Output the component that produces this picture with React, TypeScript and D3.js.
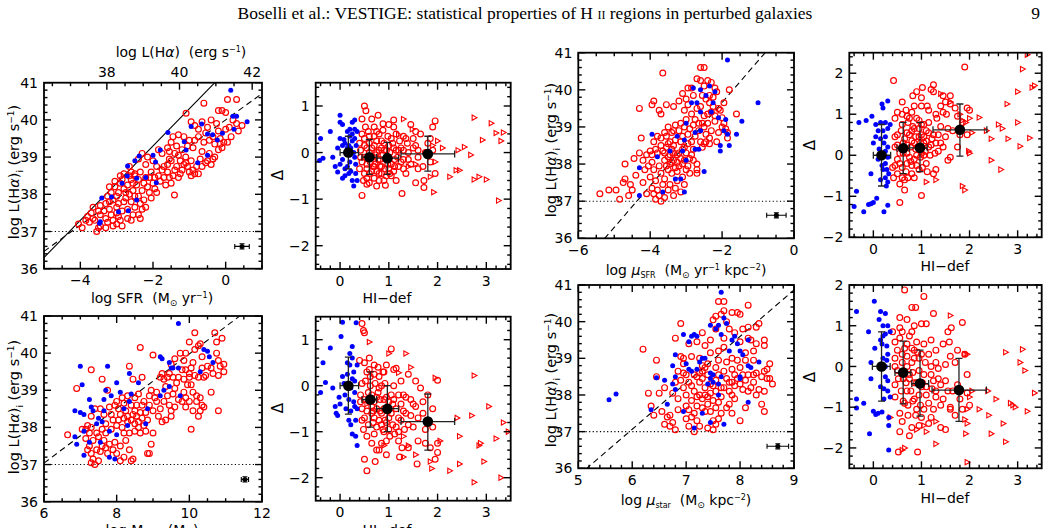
// ─ Imports ──────────────────────────────────────────────────────────────────────────────────────
import * as d3 from 'd3';
import { ReactElement, ReactNode } from 'react';

// ─ Types ────────────────────────────────────────────────────────────────────────────────────────
type Pt = [number, number];

interface MeanBin { x: number; y: number; xLo: number; xHi: number; yLo: number; yHi: number; }
interface Box { left: number; right: number; top: number; bottom: number; }
interface AxisDef { domain: [number, number]; major: number; minor: number; }
interface RefLine { slope: number; intercept: number; }
interface ErrSym { x: number; y: number; dx: number; dy: number; }

// ─ Data: log L(Hα)_i vs log SFR ──────────────────────────────────────────────────────────────────
const sfrBlue: Pt[] = [
  [0.14, 40.8], [0.59, 39.95], [0.23, 39.75], [0.2, 40.1], [0.3, 40.1], [-0.66, 39.89], [-0.5, 39.62],
  [-0.36, 39.6], [-0.09, 39.64], [-0.23, 39.46], [-1.59, 39.66], [-0.95, 39.82], [-1.14, 39.41],
  [-1.09, 39.19], [-1.8, 39.19], [-2.0, 39.05], [-1.93, 38.87], [-0.77, 38.85], [-0.5, 39.05],
  [-2.38, 39.03], [-2.7, 38.76], [-2.71, 38.49], [-2.45, 38.43], [-1.91, 38.31], [-3.14, 37.93],
  [-3.41, 37.9], [-2.45, 37.85], [-2.68, 37.56], [-2.95, 37.53], [-3.45, 37.26], [-3.47, 37.22],
  [-2.2, 38.45], [-2.85, 38.3], [-2.5, 38.9],
];
const sfrRed: Pt[] = [
  [-0.6, 40.45], [0.05, 40.55], [0.3, 40.55], [-0.2, 40.25], [-0.1, 40.25], [0.0, 40.2], [0.2, 40.0],
  [0.3, 39.9], [0.45, 39.85], [0.35, 39.7], [-0.95, 39.95], [-1.09, 40.18], [-0.85, 39.85],
  [-0.75, 39.75], [-0.5, 39.8], [-0.55, 39.65], [-0.35, 39.55], [-0.15, 39.5], [-0.05, 39.4],
  [-0.15, 39.35], [-0.3, 39.35], [-0.6, 39.4], [-0.85, 39.45], [-0.9, 39.25], [-1.05, 39.3],
  [-1.15, 39.55], [-1.3, 39.6], [-1.45, 39.55], [-1.5, 39.4], [-1.35, 39.3], [-1.6, 39.25],
  [-1.75, 39.1], [-1.85, 39.2], [-1.55, 39.15], [-1.3, 39.05], [-1.1, 39.0], [-0.95, 38.9],
  [-0.7, 38.95], [-0.55, 38.85], [-0.35, 38.95], [-0.45, 39.1], [-0.65, 39.15], [-0.8, 38.75],
  [-1.0, 38.6], [-0.95, 38.5], [-0.85, 38.55], [-1.2, 38.65], [-1.35, 38.75], [-1.5, 38.9],
  [-1.6, 38.8], [-1.75, 38.65], [-1.9, 38.75], [-2.0, 38.9], [-2.15, 39.0], [-2.3, 39.1],
  [-2.4, 38.95], [-2.2, 38.8], [-2.05, 38.6], [-1.85, 38.5], [-1.6, 38.6], [-1.45, 38.5],
  [-1.3, 38.45], [-1.5, 38.3], [-1.65, 38.25], [-1.41, 37.98], [-2.2, 38.45], [-2.35, 38.6],
  [-2.5, 38.55], [-2.6, 38.4], [-2.45, 38.25], [-2.3, 38.1], [-2.15, 38.2], [-2.0, 38.3],
  [-1.9, 38.05], [-2.05, 37.9], [-2.25, 37.85], [-2.4, 37.95], [-2.55, 38.1], [-2.7, 38.25],
  [-2.85, 38.4], [-2.8, 38.15], [-2.95, 38.05], [-3.05, 38.2], [-3.15, 38.05], [-3.1, 37.85],
  [-2.95, 37.75], [-2.75, 37.9], [-2.6, 37.8], [-2.5, 37.65], [-2.7, 37.6], [-2.85, 37.55],
  [-3.0, 37.5], [-3.2, 37.6], [-3.35, 37.55], [-3.45, 37.45], [-3.3, 37.35], [-3.1, 37.3],
  [-2.9, 37.3], [-2.7, 37.35], [-2.55, 37.45], [-3.6, 37.3], [-3.5, 37.1], [-3.55, 37.0],
  [-3.3, 37.1], [-3.1, 37.15], [-3.85, 37.3], [-4.05, 37.2], [-3.95, 37.1], [-3.7, 37.5],
  [-3.65, 37.65], [-3.2, 37.8], [-3.0, 37.95], [-2.8, 38.55], [-2.6, 38.6], [-2.65, 38.75],
  [-0.75, 38.55], [-0.5, 38.9], [-1.1, 38.85], [-1.25, 38.9], [-0.3, 39.0], [0.1, 39.8],
  [0.0, 39.75], [-0.2, 39.7], [-1.7, 38.75], [-2.5, 38.5], [-2.95, 37.4], [-3.25, 37.95],
  [-2.9, 38.3], [-2.75, 38.05], [-2.65, 38.0], [-2.5, 37.95], [-2.35, 37.75], [-2.2, 37.65],
  [-2.1, 38.05], [-1.95, 38.15], [-1.8, 38.35], [-1.7, 38.45], [-1.55, 38.45], [-1.4, 38.65],
  [-1.25, 38.55], [-1.15, 38.8], [-1.05, 38.75], [-0.9, 38.65], [-0.65, 38.75], [-0.4, 38.8],
  [-0.2, 39.2], [-0.1, 39.25], [0.05, 39.4], [0.15, 39.55], [-2.55, 38.3], [-2.4, 38.4],
  [-2.25, 38.3], [-2.1, 38.45], [-1.95, 38.45], [-2.65, 38.5], [-2.8, 37.8], [-3.0, 37.65],
  [-3.15, 37.45], [-3.3, 37.75], [-3.45, 37.7], [-3.5, 37.55], [-3.65, 37.35], [-3.75, 37.25],
  [-3.45, 37.15], [-3.25, 37.25], [-3.0, 37.2], [-2.85, 37.15], [-2.6, 37.3], [-2.4, 37.45],
  [-2.3, 37.6], [-3.05, 38.35], [-2.9, 38.5], [-3.2, 38.2], [-1.55, 38.95], [-1.4, 39.1],
  [-1.2, 39.2], [-1.0, 39.45], [-0.75, 39.55], [-0.45, 39.45], [-0.65, 39.95], [-0.4, 40.0],
  [-0.25, 39.9], [-2.35, 37.35], [-3.8, 37.4],
];

// ─ Data: Δ vs HI-def (SFR relation) ──────────────────────────────────────────────────────────────
const dSfrBlue: Pt[] = [
  [-0.4, 0.3], [-0.42, -0.17], [-0.35, -0.12], [-0.2, 0.45], [-0.15, -0.1], [-0.1, -0.3], [-0.05, -0.42],
  [0.0, 0.65], [0.0, 0.8], [0.05, 0.6], [0.0, 0.3], [0.05, 0.15], [0.08, 0.28], [0.05, -0.15],
  [0.0, -0.25], [0.05, -0.55], [0.1, -0.35], [0.1, 0.2], [0.15, 0.45], [0.15, 0.1], [0.15, -0.3],
  [0.18, -0.45], [0.2, 0.5], [0.2, 0.35], [0.22, 0.1], [0.2, -0.05], [0.2, -0.2], [0.22, -0.4],
  [0.25, -0.6], [0.28, -0.72], [0.25, 0.65], [0.25, 0.25], [0.28, 0.0], [0.3, 0.5], [0.3, 0.7],
  [0.32, -0.25], [0.35, -0.6], [0.32, -0.45], [0.3, 0.3], [0.35, 0.45], [-0.05, 0.1], [0.12, 0.0],
  [0.3, -0.1], [0.25, 0.4], [0.18, 0.15], [0.33, 0.15], [0.1, -0.5],
];
const dSfrRed: Pt[] = [
  [0.5, 1.0], [0.53, 0.9], [0.45, -0.92], [0.5, 0.3], [0.55, 0.1], [0.5, -0.1], [0.55, -0.25],
  [0.5, -0.45], [0.55, -0.55], [0.55, -0.68], [0.45, 0.72], [0.45, 0.4], [0.4, 0.2], [0.42, -0.1],
  [0.4, -0.35], [0.6, 0.2], [0.65, 0.72], [0.6, 0.35], [0.65, -0.1], [0.65, -0.4], [0.7, -0.55],
  [0.7, 0.15], [0.75, 0.0], [0.72, -0.25], [0.75, -0.72], [0.78, 0.8], [0.8, 0.4], [0.8, -0.45],
  [0.82, -0.15], [0.85, 0.25], [0.85, -0.3], [0.88, 0.48], [0.9, 0.05], [0.9, -0.6], [0.93, -0.7],
  [0.95, -0.15], [0.98, 0.35], [1.0, 0.6], [1.0, -0.35], [1.02, 0.0], [1.05, -0.5], [1.08, 0.2],
  [1.1, 0.55], [1.1, 0.7], [1.12, -0.15], [1.15, 0.4], [1.15, -0.6], [1.2, -0.3], [1.22, 0.25],
  [1.25, 0.1], [1.27, -0.88], [1.3, -0.15], [1.3, 0.35], [1.35, -0.45], [1.38, 0.2], [1.4, 0.0],
  [1.45, 0.6], [1.45, -0.25], [1.5, 0.3], [1.55, -0.65], [1.55, 0.15], [1.6, -0.1], [1.65, 0.4],
  [1.7, -0.3], [1.72, -0.6], [1.72, -0.75], [1.75, 0.0], [1.8, 0.2], [1.85, -0.2], [1.9, 0.55],
  [1.95, 0.68], [1.95, -0.45], [1.9, 0.05], [1.85, 0.3], [1.0, -0.1], [1.2, 0.05], [0.6, 0.0],
  [0.7, -0.3], [1.6, 0.05], [1.25, -0.2], [1.1, -0.4],
  [0.45, -0.2], [0.5, 0.15], [0.55, -0.35], [0.6, -0.45], [0.62, -0.2], [0.65, 0.1], [0.68, -0.3],
  [0.7, 0.35], [0.72, -0.05], [0.75, 0.25], [0.75, -0.4], [0.78, -0.15], [0.8, 0.05], [0.82, -0.3],
  [0.85, 0.1], [0.85, -0.45], [0.88, -0.05], [0.9, 0.2], [0.92, -0.35], [0.95, 0.05], [0.95, -0.5],
  [0.98, -0.25], [1.0, 0.15], [1.02, -0.45], [1.05, 0.3], [1.05, -0.25], [1.1, 0.1], [1.12, -0.3],
  [1.15, 0.05], [1.18, -0.1], [0.58, 0.45], [0.48, -0.6], [0.7, 0.55], [0.6, -0.65], [0.8, -0.6],
  [0.88, 0.62], [0.75, 0.45], [1.3, 0.05], [1.35, 0.3], [1.4, -0.15], [1.5, 0.1], [1.55, 0.45],
  [1.6, -0.35], [1.3, -0.35], [0.42, 0.05], [0.52, 0.55],
];
const dSfrTri: Pt[] = [
  [1.3, 0.72], [1.48, 0.5], [1.2, 0.38], [1.9, 0.15], [2.0, 0.25], [2.1, 0.1], [1.95, -0.2],
  [1.85, -0.52], [1.92, -0.85], [2.25, -0.52], [2.38, -0.38], [2.45, -0.38], [2.42, 0.05],
  [2.55, 0.12], [2.68, -0.05], [2.75, 0.75], [2.75, -0.58], [2.85, -0.52], [3.0, -0.58],
  [2.92, 0.27], [3.1, 0.63], [3.2, 0.42], [3.35, 0.43], [3.3, 0.25], [3.25, -1.03], [1.55, -0.25],
  [1.4, -0.3],
];
const dSfrMeans: MeanBin[] = [
  { x: 0.17, y: 0.0, xLo: 0.0, xHi: 0.38, yLo: -0.35, yHi: 0.35 },
  { x: 0.6, y: -0.1, xLo: 0.45, xHi: 0.75, yLo: -0.47, yHi: 0.28 },
  { x: 0.97, y: -0.12, xLo: 0.75, xHi: 1.2, yLo: -0.47, yHi: 0.22 },
  { x: 1.8, y: -0.03, xLo: 1.25, xHi: 2.35, yLo: -0.4, yHi: 0.35 },
];

// ─ Data: log L(Hα)_i vs log μSFR ─────────────────────────────────────────────────────────────────
const muSfrBlue: Pt[] = [
  [-1.85, 40.8], [-1.0, 39.65], [-1.45, 39.15], [-1.6, 38.8], [-1.8, 38.5], [-2.05, 38.5], [-2.05, 38.35],
  [-1.85, 38.8], [-1.95, 38.9], [-1.9, 39.2], [-2.1, 39.25], [-2.25, 39.65], [-2.3, 39.4],
  [-2.45, 39.85], [-2.7, 39.65], [-2.85, 39.65], [-2.8, 40.05], [-2.6, 40.0], [-2.35, 40.1],
  [-2.2, 39.95], [-2.6, 39.4], [-2.6, 38.9], [-2.75, 38.4], [-2.65, 38.4], [-3.05, 38.65],
  [-3.1, 38.35], [-3.0, 38.1], [-3.15, 37.6], [-3.05, 37.25], [-3.3, 37.6], [-3.0, 39.1],
  [-3.45, 38.35], [-3.8, 38.2], [-3.95, 38.8], [-4.3, 37.9], [-4.3, 37.15], [-3.65, 37.25],
  [-2.5, 37.8], [-3.25, 38.75], [-2.75, 38.85],
];
const muSfrRed: Pt[] = [
  [-5.4, 37.2], [-5.15, 37.3], [-4.95, 37.3], [-4.85, 37.05], [-4.75, 37.5], [-4.7, 37.6], [-4.55, 37.45],
  [-4.6, 37.15], [-4.5, 37.3], [-4.7, 38.0], [-4.4, 37.7], [-4.3, 38.3], [-4.25, 38.7], [-4.3, 39.5],
  [-4.45, 38.15], [-4.2, 38.1], [-4.1, 38.25], [-4.05, 37.95], [-3.95, 38.05], [-4.15, 37.85],
  [-4.0, 37.65], [-3.85, 37.55], [-3.95, 37.35], [-3.75, 37.15], [-3.85, 37.05], [-3.7, 37.0],
  [-3.6, 37.1], [-3.9, 37.2], [-4.1, 37.2], [-4.2, 37.5], [-3.95, 39.6], [-3.9, 39.7], [-3.75, 39.45],
  [-3.65, 40.45], [-3.7, 39.35], [-3.9, 38.6], [-3.8, 38.75], [-3.7, 38.7], [-3.85, 38.4],
  [-3.65, 38.35], [-3.55, 38.45], [-3.5, 38.2], [-3.45, 38.6], [-3.35, 38.5], [-3.6, 38.1],
  [-3.75, 37.95], [-3.5, 37.85], [-3.4, 37.75], [-3.3, 37.9], [-3.25, 38.05], [-3.6, 37.6],
  [-3.45, 37.45], [-3.3, 37.35], [-3.5, 37.3], [-3.15, 37.25], [-3.25, 37.55], [-3.1, 37.65],
  [-3.55, 39.6], [-3.35, 39.55], [-3.5, 39.0], [-3.4, 38.85], [-3.3, 39.05], [-3.2, 38.9],
  [-3.15, 38.6], [-3.1, 38.4], [-3.0, 38.3], [-3.05, 38.1], [-2.95, 37.95], [-2.9, 38.15],
  [-3.2, 38.3], [-3.1, 38.75], [-3.05, 39.0], [-2.95, 38.8], [-2.85, 38.6], [-2.8, 38.4],
  [-3.0, 39.2], [-3.2, 39.7], [-3.1, 39.9], [-3.0, 39.75], [-2.95, 40.05], [-2.8, 39.85],
  [-3.05, 39.45], [-2.85, 39.35], [-2.75, 39.2], [-2.7, 39.5], [-2.6, 40.6], [-2.5, 40.6],
  [-2.7, 40.3], [-2.85, 40.05], [-2.4, 40.25], [-2.3, 40.2], [-2.2, 40.05], [-2.15, 39.95],
  [-2.55, 39.85], [-2.45, 39.75], [-2.35, 39.65], [-2.6, 39.55], [-2.5, 39.3], [-2.4, 39.35],
  [-2.3, 39.4], [-2.55, 39.1], [-2.65, 38.9], [-2.45, 38.8], [-2.6, 38.6], [-2.55, 38.45],
  [-2.7, 38.0], [-2.7, 37.85], [-2.7, 37.75], [-2.8, 38.1], [-2.25, 39.55], [-2.2, 39.3],
  [-2.1, 39.5], [-2.0, 39.25], [-1.8, 40.0], [-1.95, 39.65], [-2.3, 38.9], [-2.15, 38.6],
  [-1.95, 39.1], [-1.9, 38.95], [-1.85, 38.85], [-1.85, 38.7], [-1.6, 39.35], [-2.35, 38.55],
  [-3.35, 38.3], [-3.55, 38.75], [-3.4, 38.05], [-3.2, 37.95],
  [-3.45, 38.25], [-3.35, 38.1], [-3.25, 38.25], [-3.15, 38.15], [-3.05, 38.45], [-2.95, 38.55],
  [-3.3, 38.65], [-3.4, 38.4], [-3.5, 38.55], [-3.6, 38.3], [-3.55, 37.95], [-3.45, 38.0],
  [-3.25, 37.8], [-3.1, 38.0], [-3.0, 37.85], [-2.9, 37.75], [-2.85, 38.25], [-2.75, 38.75],
  [-2.8, 39.05], [-2.9, 38.95], [-3.15, 39.1], [-3.35, 38.9], [-3.6, 38.85], [-3.7, 38.5],
  [-3.8, 38.3], [-3.95, 38.25], [-4.0, 38.35], [-3.9, 37.85], [-3.7, 37.75], [-3.65, 37.45],
  [-3.8, 37.3], [-2.65, 39.1], [-2.5, 39.0], [-2.4, 39.1], [-2.35, 39.85], [-2.5, 40.1],
  [-2.6, 40.25], [-2.25, 39.8], [-2.2, 39.15], [-2.05, 39.45], [-2.1, 38.85], [-2.35, 38.7],
  [-2.5, 38.55], [-2.45, 38.6], [-2.0, 39.0], [-3.05, 37.45], [-3.35, 37.15], [-2.95, 39.6],
];

// ─ Data: Δ vs HI-def (μSFR relation) ─────────────────────────────────────────────────────────────
const dMuSfrBlue: Pt[] = [
  [-0.35, -0.88], [-0.4, -1.25], [-0.3, 0.8], [-0.15, 0.85], [-0.2, -1.38], [-0.1, -1.2], [-0.05, -1.18],
  [0.0, -1.15], [-0.03, 0.95], [0.05, 0.75], [0.0, 0.3], [0.05, 0.45], [-0.05, -0.45], [0.07, -1.05],
  [0.1, -0.1], [0.12, 0.15], [0.15, 0.8], [0.15, 0.4], [0.15, -0.6], [0.18, 1.25], [0.2, 1.15],
  [0.2, 0.6], [0.2, -0.35], [0.22, -1.38], [0.22, 0.05], [0.25, 0.8], [0.25, 0.45], [0.25, -0.2],
  [0.25, -0.55], [0.27, -0.75], [0.3, 1.32], [0.3, 0.65], [0.3, 0.2], [0.3, -0.05], [0.32, -0.45],
  [0.3, -0.65], [0.35, 0.75], [0.3, -1.22], [0.18, -0.25], [0.1, 0.6], [0.25, 0.1], [0.28, -0.35],
  [0.22, 0.3],
];
const dMuSfrRed: Pt[] = [
  [0.42, 1.82], [0.45, 0.2], [0.4, -0.3], [0.42, -0.55], [0.45, 0.9], [0.5, 1.05], [0.5, 0.5],
  [0.5, -0.1], [0.55, -1.15], [0.55, -0.7], [0.6, 1.3], [0.6, 0.75], [0.62, 0.3], [0.6, -0.3],
  [0.65, -0.85], [0.68, 1.1], [0.7, 0.55], [0.7, 0.05], [0.72, -0.55], [0.75, 0.9], [0.78, -0.15],
  [0.8, 1.05], [0.8, 0.35], [0.8, -0.45], [0.82, 1.45], [0.85, 0.65], [0.88, 0.15], [0.9, 1.55],
  [0.9, -0.25], [0.95, 0.85], [0.95, 0.45], [0.98, -0.05], [1.0, 1.4], [1.0, -0.98], [1.02, 1.65],
  [1.05, 0.3], [1.05, 0.75], [1.1, 0.6], [1.1, -0.2], [1.12, 1.2], [1.15, 1.1], [1.15, 0.2],
  [1.2, 1.6], [1.22, 0.4], [1.25, 1.55], [1.25, -0.45], [1.25, 1.72], [1.3, 0.3], [1.3, -0.35],
  [1.32, 0.9], [1.35, 0.1], [1.4, 0.3], [1.45, 1.05], [1.5, 1.3], [1.52, 1.0], [1.55, 0.65],
  [1.6, 1.45], [1.65, 0.6], [1.6, -0.05], [1.55, -0.12], [1.7, 1.15], [1.75, 0.95], [1.85, 0.8],
  [1.9, 2.15], [1.95, 1.15], [1.95, 0.5], [2.0, 1.1], [1.6, 1.25], [0.9, 0.0], [1.0, 0.5],
  [0.7, -0.2], [0.55, 0.05], [1.15, 0.8], [0.8, 0.6], [0.6, -0.55], [0.85, -0.1], [1.05, 0.0],
  [0.45, 0.45], [0.5, 0.25], [0.55, -0.2], [0.58, 0.6], [0.62, 0.05], [0.65, 0.4], [0.68, -0.4],
  [0.7, 0.25], [0.72, 0.8], [0.75, -0.05], [0.75, 0.5], [0.78, 0.2], [0.8, -0.25], [0.82, 0.7],
  [0.85, 0.3], [0.85, -0.55], [0.88, 0.45], [0.9, 0.9], [0.92, 0.2], [0.95, -0.35], [0.95, 0.65],
  [0.98, 0.3], [1.0, 0.05], [1.0, 0.75], [1.02, -0.3], [1.05, 0.45], [1.08, 0.1], [1.1, 0.35],
  [1.12, -0.4], [1.15, 0.55], [1.18, 0.0], [1.2, 0.25], [1.25, 0.5], [1.28, 0.05], [1.35, 0.5],
  [1.4, 0.7], [1.45, 0.2], [1.5, 0.45], [0.6, 1.0], [0.7, 0.95], [0.65, -0.6], [0.85, 1.2],
  [1.0, 1.2], [0.5, -0.45], [0.45, -0.25], [1.3, 1.0], [1.4, 1.2], [1.45, 1.45], [1.8, 0.5],
  [1.75, 0.2],
];
const dMuSfrTri: Pt[] = [
  [1.4, 1.5], [1.6, 1.3], [1.8, 1.0], [1.85, 0.85], [1.92, 0.8], [2.0, 0.9], [2.05, 0.55], [1.98, 0.1],
  [2.0, 0.05], [1.85, -0.75], [1.9, -0.85], [2.2, 0.92], [2.35, 0.6], [2.45, 0.4], [2.45, -0.12],
  [2.6, 0.75], [2.68, 0.65], [2.65, -0.35], [2.78, 1.25], [2.8, 0.4], [3.0, 0.8], [3.05, 0.22],
  [3.0, 1.55], [3.1, 2.1], [3.2, 2.45], [3.3, 1.65], [3.35, 1.7], [3.25, 0.42], [1.3, -0.6],
  [1.1, -0.65],
];
const dMuSfrMeans: MeanBin[] = [
  { x: 0.17, y: 0.0, xLo: 0.0, xHi: 0.36, yLo: -0.75, yHi: 0.75 },
  { x: 0.62, y: 0.17, xLo: 0.49, xHi: 0.75, yLo: -0.45, yHi: 0.8 },
  { x: 0.97, y: 0.18, xLo: 0.75, xHi: 1.12, yLo: -0.4, yHi: 0.8 },
  { x: 1.8, y: 0.62, xLo: 1.24, xHi: 2.36, yLo: -0.02, yHi: 1.25 },
];

// ─ Data: log L(Hα)_i vs log Mstar ────────────────────────────────────────────────────────────────
const mstarBlue: Pt[] = [
  [9.7, 40.8], [7.0, 39.65], [7.75, 39.65], [7.05, 39.15], [7.25, 38.75], [7.3, 38.55], [7.35, 38.45],
  [6.85, 38.45], [7.0, 38.4], [7.1, 38.35], [7.65, 38.75], [7.7, 39.0], [7.85, 38.85], [8.0, 39.2],
  [8.35, 39.45], [8.1, 38.95], [8.35, 38.7], [8.2, 38.5], [7.65, 38.45], [7.5, 38.25], [7.6, 38.15],
  [7.45, 38.1], [7.1, 37.9], [6.85, 37.75], [6.9, 37.55], [7.1, 37.25], [7.25, 37.6], [7.55, 37.6],
  [7.8, 37.9], [8.0, 37.8], [7.95, 37.15], [7.8, 37.2], [8.4, 38.9], [8.6, 39.2], [8.85, 38.5],
  [9.2, 39.9], [9.25, 39.85], [9.45, 39.75], [9.5, 39.6], [9.55, 39.6], [9.7, 39.6], [9.45, 39.1],
  [9.75, 38.85], [9.2, 38.85], [9.3, 39.0], [10.4, 40.1], [10.5, 40.05], [10.55, 39.9], [10.3, 39.5],
  [10.65, 39.75], [8.3, 38.05], [8.8, 38.1],
];
const mstarRed: Pt[] = [
  [6.65, 37.8], [6.9, 39.05], [7.3, 39.55], [7.2, 38.05], [7.3, 38.0], [7.15, 37.95], [7.25, 37.5],
  [7.2, 37.4], [7.3, 37.3], [7.35, 37.15], [7.5, 37.1], [7.3, 37.05], [7.4, 37.0], [7.45, 37.4],
  [7.55, 37.35], [7.6, 37.5], [7.5, 37.75], [7.65, 37.65], [7.7, 37.45], [7.75, 37.3], [7.8, 37.55],
  [7.9, 37.4], [7.95, 37.6], [7.7, 37.85], [7.6, 37.95], [7.55, 38.5], [7.6, 39.3], [7.75, 39.0],
  [7.85, 38.35], [7.95, 38.6], [8.05, 38.2], [8.1, 38.35], [8.15, 38.0], [8.2, 37.85], [8.0, 37.3],
  [8.1, 37.1], [8.2, 37.2], [8.35, 37.4], [8.4, 37.1], [8.45, 37.15], [8.1, 37.5], [8.25, 37.65],
  [8.35, 37.85], [8.4, 38.2], [8.3, 38.3], [8.25, 38.45], [8.4, 38.6], [8.45, 39.3], [8.35, 39.65],
  [8.5, 38.45], [8.55, 38.3], [8.6, 38.15], [8.6, 38.0], [8.65, 37.85], [8.7, 38.6], [8.75, 38.7],
  [8.6, 38.9], [8.7, 39.35], [8.65, 40.15], [8.8, 38.4], [8.85, 38.2], [8.9, 37.3], [8.85, 37.3],
  [8.95, 37.55], [9.0, 37.85], [8.9, 38.85], [8.95, 39.0], [9.0, 39.95], [9.05, 38.8], [9.15, 38.3],
  [9.2, 39.35], [9.25, 39.45], [9.3, 39.3], [9.35, 39.1], [9.4, 38.85], [9.45, 38.6], [9.5, 38.45],
  [9.5, 38.3], [9.35, 38.2], [9.25, 38.15], [9.55, 38.9], [9.6, 39.05], [9.65, 39.2], [9.6, 39.85],
  [9.75, 40.0], [9.8, 39.55], [9.85, 39.3], [9.85, 38.95], [9.9, 38.8], [9.9, 38.55], [10.0, 38.7],
  [10.05, 37.95], [10.0, 39.45], [10.05, 39.6], [10.0, 40.3], [10.15, 40.1], [10.25, 40.2],
  [10.3, 40.25], [10.15, 39.4], [10.25, 39.35], [10.2, 38.85], [10.2, 38.7], [10.1, 38.45],
  [10.3, 38.45], [10.25, 38.3], [10.35, 39.9], [10.4, 39.35], [10.7, 40.55], [10.75, 40.3],
  [10.75, 40.0], [10.9, 40.4], [10.8, 39.8], [10.6, 39.6], [10.65, 39.45], [10.85, 39.65],
  [10.95, 39.7], [10.95, 39.5], [10.8, 39.4], [10.6, 38.95], [10.8, 38.45], [10.15, 40.55],
  [9.5, 39.7], [10.0, 39.35], [10.1, 39.75], [8.2, 38.25], [8.5, 38.1], [8.0, 38.05],
  [8.3, 38.15], [8.45, 38.35], [8.5, 37.9], [8.55, 38.6], [8.65, 38.4], [8.7, 38.25], [8.75, 38.05],
  [8.8, 37.9], [8.2, 38.65], [8.15, 38.8], [8.05, 38.5], [7.9, 38.2], [7.85, 37.95], [7.7, 38.1],
  [7.65, 38.35], [7.45, 37.85], [7.35, 37.65], [7.25, 37.85], [7.15, 37.7], [7.05, 37.95],
  [8.9, 38.6], [9.0, 38.45], [9.1, 38.7], [9.1, 38.95], [9.2, 38.5], [9.3, 38.7], [9.4, 39.35],
  [9.45, 39.45], [9.55, 39.35], [9.7, 39.35], [9.7, 38.75], [9.8, 38.7], [9.6, 38.55], [9.9, 39.55],
  [9.95, 39.15], [10.05, 39.15], [10.1, 38.95], [10.3, 38.8], [10.35, 38.6], [10.4, 38.55],
  [10.45, 39.4], [10.5, 39.65], [10.35, 39.6], [9.85, 39.8], [9.9, 40.0], [8.5, 38.8], [8.3, 38.85],
  [8.0, 38.7], [7.8, 38.55], [7.4, 38.5], [7.3, 38.3],
];

// ─ Data: Δ vs HI-def (Mstar relation) ────────────────────────────────────────────────────────────
const dMstarBlue: Pt[] = [
  [-0.35, 0.5], [-0.4, -0.15], [-0.3, 0.07], [-0.2, 0.82], [-0.15, -0.05], [-0.1, -0.45], [-0.08, -0.6],
  [-0.05, -0.65], [0.0, -0.4], [-0.02, -0.25], [0.02, 1.07], [0.05, 1.38], [0.05, 0.2], [0.08, 0.05],
  [0.1, -0.2], [0.12, -0.5], [0.15, 0.5], [0.15, 0.25], [0.18, -0.3], [0.2, 0.7], [0.2, 0.45],
  [0.22, -0.05], [0.22, -0.55], [0.25, -1.05], [0.25, 0.85], [0.25, 0.6], [0.28, 0.3], [0.3, -0.15],
  [0.3, -0.45], [0.32, -0.75], [0.33, 1.37], [0.32, -1.1], [0.35, -1.3], [0.35, 0.45], [0.3, 0.1],
  [0.18, -0.75], [0.28, -0.35], [0.25, 0.15], [0.22, -0.85], [0.35, -0.5],
];
const dMstarRed: Pt[] = [
  [0.45, 1.35], [0.48, 1.2], [0.5, 1.15], [0.4, 0.55], [0.45, 0.05], [0.42, -0.2], [0.45, -0.5],
  [0.5, -0.7], [0.48, -0.95], [0.5, -1.6], [0.55, -1.85], [0.55, 0.3], [0.58, -0.15], [0.6, 0.6],
  [0.62, 0.0], [0.65, -0.45], [0.68, -0.8], [0.7, -1.05], [0.72, -1.65], [0.7, 0.25], [0.75, -0.25],
  [0.75, -1.4], [0.78, 0.4], [0.8, -0.05], [0.82, -0.55], [0.85, -0.85], [0.85, -1.25], [0.88, 0.3],
  [0.9, -0.3], [0.92, 0.05], [0.95, 0.45], [0.95, -1.5], [1.0, -0.7], [1.02, -1.1], [1.05, 0.8],
  [1.08, -0.4], [1.1, 0.0], [1.15, -0.9], [1.15, 0.38], [1.2, -0.2], [1.22, -1.55], [1.25, 0.1],
  [1.27, -1.35], [1.3, -0.55], [1.32, -0.95], [1.35, -0.25], [1.4, -1.35], [1.45, -0.65], [1.5, -0.4],
  [1.55, 0.1], [1.58, -1.7], [1.6, -1.2], [1.65, -0.05], [1.7, -0.6], [1.75, -1.25], [1.8, -0.2],
  [1.85, -1.35], [1.9, -0.9], [1.95, -1.6], [2.0, 0.12], [2.0, -1.45], [2.0, -1.25], [1.4, 0.25],
  [0.8, 0.2], [0.65, -0.6], [1.05, -0.2], [0.95, -0.8], [1.2, -0.7], [0.7, -0.35], [0.9, -1.0],
  [0.42, -0.35], [0.45, -0.75], [0.5, -0.3], [0.52, 0.1], [0.55, -0.55], [0.58, -0.85], [0.6, -0.35],
  [0.62, 0.2], [0.65, -0.2], [0.68, -0.55], [0.7, -0.7], [0.72, 0.05], [0.75, -0.5], [0.75, -0.9],
  [0.78, -0.15], [0.8, -0.75], [0.82, -0.3], [0.85, -0.6], [0.85, 0.0], [0.88, -0.95], [0.9, -0.5],
  [0.92, -0.75], [0.95, -0.25], [0.98, -0.55], [1.0, -0.95], [1.0, -0.35], [1.05, -0.6], [1.08, -0.85],
  [1.1, -0.3], [1.12, -1.05], [1.15, -0.5], [1.2, -1.2], [1.25, -0.4], [1.25, -0.75], [1.3, -0.2],
  [1.35, -0.6], [1.4, -0.85], [1.45, -0.3], [1.5, -0.9], [1.55, -0.45], [0.6, 0.35], [0.7, 0.45],
  [0.9, 0.3], [1.1, 0.35], [0.55, -1.1], [0.65, -1.25], [0.8, -1.4], [0.95, -1.2], [1.2, -1.0],
  [1.6, -0.7], [1.7, -0.35], [1.75, -0.95], [1.9, -0.5], [0.5, 0.5],
];
const dMstarTri: Pt[] = [
  [0.6, 0.95], [1.0, 0.7], [1.35, 0.7], [1.45, 0.4], [1.2, 0.28], [0.55, -0.4], [0.9, -1.3], [1.3, -1.1],
  [1.3, -1.55], [1.55, -1.5], [1.85, -1.65], [1.88, -1.8], [1.95, 0.17], [2.05, -1.2], [2.25, -1.85],
  [2.4, -0.7], [2.45, -1.1], [2.45, -1.7], [2.7, -0.65], [2.75, 0.22], [2.85, -1.3], [2.88, -1.25],
  [3.05, -0.45], [3.2, -1.15], [3.35, -0.8], [3.45, -1.0], [3.3, -2.0], [2.75, -2.1], [2.95, -1.65],
  [1.4, -1.3],
];
const dMstarMeans: MeanBin[] = [
  { x: 0.17, y: 0.0, xLo: 0.0, xHi: 0.38, yLo: -0.62, yHi: 0.62 },
  { x: 0.62, y: -0.3, xLo: 0.45, xHi: 0.75, yLo: -0.9, yHi: 0.3 },
  { x: 0.97, y: -0.5, xLo: 0.75, xHi: 1.2, yLo: -1.0, yHi: 0.0 },
  { x: 1.8, y: -0.78, xLo: 1.25, xHi: 2.35, yLo: -1.4, yHi: -0.18 },
];

// ─ Data: log L(Hα)_i vs log μstar ────────────────────────────────────────────────────────────────
const muStarBlue: Pt[] = [
  [5.57, 37.87], [5.7, 38.03], [6.35, 37.6], [6.45, 38.47], [6.6, 38.4], [6.65, 37.75], [6.75, 38.8],
  [6.75, 38.3], [6.8, 38.5], [6.8, 38.15], [6.8, 39.1], [6.95, 39.65], [7.05, 39.45], [7.1, 39.6],
  [7.15, 39.65], [7.2, 39.6], [7.0, 38.85], [7.05, 38.7], [7.1, 38.65], [7.2, 38.7], [7.25, 38.9],
  [7.3, 39.0], [7.35, 39.0], [6.95, 37.55], [7.15, 37.1], [7.3, 37.5], [7.45, 37.25], [7.4, 38.3],
  [7.45, 38.45], [7.5, 38.55], [7.5, 38.35], [7.6, 38.3], [7.6, 38.0], [7.65, 38.5], [7.45, 39.9],
  [7.55, 39.8], [7.6, 39.9], [7.65, 39.65], [7.7, 40.1], [7.75, 39.95], [7.65, 40.8], [7.7, 37.2],
  [7.8, 39.2], [7.85, 39.5], [7.9, 39.6], [7.95, 39.4], [8.0, 39.2], [8.0, 38.5], [8.0, 38.45],
  [8.15, 39.5], [8.15, 38.8], [8.2, 38.75], [8.35, 38.9], [8.15, 37.8], [8.05, 39.1], [7.45, 38.6],
];
const muStarRed: Pt[] = [
  [6.2, 39.25], [6.3, 38.05], [6.35, 37.7], [6.4, 37.45], [6.45, 38.95], [6.45, 38.5], [6.5, 38.05],
  [6.55, 37.55], [6.6, 38.2], [6.65, 37.4], [6.6, 37.2], [6.7, 37.15], [6.7, 37.45], [6.75, 37.25],
  [6.8, 37.05], [6.85, 37.6], [6.85, 37.9], [6.8, 38.35], [6.85, 38.65], [6.8, 39.55], [6.9, 39.95],
  [6.9, 39.05], [6.95, 38.85], [6.9, 38.4], [6.95, 38.2], [7.0, 38.0], [7.0, 37.35], [7.05, 37.15],
  [7.05, 37.6], [7.1, 37.85], [7.1, 38.25], [7.1, 39.05], [7.15, 38.55], [7.15, 37.0], [7.2, 37.3],
  [7.2, 37.7], [7.25, 38.0], [7.25, 38.35], [7.3, 39.7], [7.3, 37.9], [7.35, 38.2], [7.35, 38.75],
  [7.35, 37.55], [7.4, 37.1], [7.4, 37.75], [7.4, 38.55], [7.45, 38.05], [7.45, 39.5], [7.5, 37.3],
  [7.5, 37.05], [7.5, 38.25], [7.55, 37.65], [7.55, 38.75], [7.6, 38.95], [7.6, 39.2], [7.6, 40.55],
  [7.65, 40.2], [7.7, 40.55], [7.7, 40.3], [7.55, 40.15], [7.5, 40.05], [7.55, 39.8], [7.7, 39.3],
  [7.75, 38.9], [7.75, 38.45], [7.8, 38.1], [7.8, 37.75], [7.65, 37.5], [7.85, 38.7], [7.85, 38.35],
  [7.9, 38.55], [7.9, 39.7], [7.95, 40.25], [7.85, 40.25], [8.0, 40.2], [8.05, 39.8], [8.0, 37.3],
  [8.0, 38.3], [8.05, 38.15], [8.1, 38.95], [8.1, 39.15], [8.15, 39.55], [8.15, 40.45], [8.15, 39.85],
  [8.2, 39.5], [8.15, 38.55], [8.15, 38.1], [8.25, 38.55], [8.3, 39.85], [8.35, 39.95], [8.3, 39.4],
  [8.45, 39.5], [8.45, 39.35], [8.5, 38.7], [8.5, 38.45], [8.6, 38.3], [8.55, 38.45], [8.55, 38.85],
  [8.45, 37.55], [8.45, 38.1], [8.25, 38.95], [7.95, 38.95], [7.25, 39.0], [6.95, 39.0], [7.3, 38.8],
  [7.2, 38.5], [7.55, 38.4], [7.65, 38.2], [7.4, 37.95], [7.15, 37.5],
  [7.05, 38.35], [7.15, 38.1], [7.2, 37.95], [7.25, 38.6], [7.3, 38.45], [7.35, 38.0], [7.4, 38.85],
  [7.45, 37.55], [7.45, 38.3], [7.5, 37.85], [7.55, 38.1], [7.6, 37.8], [7.6, 38.55], [7.65, 37.95],
  [7.7, 38.65], [7.7, 38.2], [7.75, 37.65], [7.8, 38.35], [7.85, 38.0], [7.9, 38.25], [7.95, 38.45],
  [8.0, 38.75], [8.05, 38.55], [8.1, 38.4], [8.2, 38.2], [8.25, 38.35], [8.3, 38.6], [8.35, 38.15],
  [8.4, 38.5], [8.45, 38.65], [7.0, 38.55], [6.95, 38.6], [7.0, 37.7], [7.1, 37.4], [7.25, 37.15],
  [7.3, 37.65], [7.55, 37.2], [7.6, 37.35], [7.85, 37.5], [7.9, 37.9], [8.1, 37.65], [7.05, 39.4],
  [7.2, 39.45], [7.35, 39.35], [7.45, 39.15], [7.7, 39.55], [7.85, 39.0], [8.0, 39.45], [8.25, 39.2],
  [8.3, 38.0], [8.4, 37.75], [7.75, 40.0], [7.8, 39.8], [7.3, 38.65], [6.75, 38.05],
];

// ─ Data: Δ vs HI-def (μstar relation) ────────────────────────────────────────────────────────────
const dMuStarBlue: Pt[] = [
  [-0.35, 1.35], [-0.35, -0.8], [-0.35, -1.02], [-0.2, -0.9], [-0.1, 0.85], [-0.05, 0.1], [-0.05, -0.3],
  [-0.08, -1.65], [0.0, -1.1], [0.02, 1.6], [0.03, 0.45], [0.05, -1.18], [0.1, -1.15], [0.15, 1.35],
  [0.15, 0.65], [0.18, -1.12], [0.18, 0.55], [0.2, 1.0], [0.2, 0.2], [0.22, -0.55], [0.25, 1.3],
  [0.25, 0.8], [0.25, -0.25], [0.28, 0.5], [0.3, -0.6], [0.3, 1.0], [0.3, 0.3], [0.32, -1.25],
  [0.32, -1.45], [0.32, -2.05], [0.35, 0.85], [0.35, -0.75], [0.25, 0.0], [0.15, -0.5], [0.12, 1.15],
  [0.22, -0.8], [0.28, 0.15], [0.3, -0.35], [0.2, 0.75],
];
const dMuStarRed: Pt[] = [
  [0.65, 1.88], [1.05, 1.72], [0.55, 1.2], [0.4, 0.85], [0.45, 0.6], [0.45, 0.2], [0.5, -0.1],
  [0.45, -0.45], [0.45, -0.75], [0.55, -1.15], [0.55, -1.6], [0.52, -2.1], [0.6, 0.85], [0.6, 0.3],
  [0.62, -0.3], [0.65, -0.9], [0.7, 0.55], [0.7, -0.6], [0.72, -1.2], [0.75, -1.7], [0.8, 1.45],
  [0.8, 0.85], [0.8, 0.1], [0.82, -0.85], [0.85, -0.4], [0.88, 1.45], [0.9, 0.6], [0.9, -1.05],
  [0.92, -2.1], [0.95, 0.2], [0.95, -1.45], [1.0, 1.05], [1.05, 0.55], [1.05, -0.2], [1.1, 1.05],
  [1.1, -0.7], [1.15, 0.3], [1.15, -1.4], [1.2, 0.65], [1.22, -0.55], [1.25, 1.3], [1.25, -1.05],
  [1.3, 0.1], [1.35, -0.3], [1.4, -0.95], [1.4, -1.5], [1.45, 0.55], [1.5, -0.35], [1.5, -1.55],
  [1.55, 0.85], [1.58, 0.6], [1.6, -1.0], [1.62, 0.95], [1.6, 0.25], [1.65, -0.6], [1.7, -1.2],
  [1.75, 0.4], [1.8, -0.8], [1.85, 1.08], [1.9, 0.3], [1.95, -0.2], [1.95, -0.65], [2.0, -0.95],
  [1.85, -1.05], [1.2, -0.2], [0.7, 0.0], [1.0, -0.5], [1.3, -0.75], [0.85, 0.4], [0.75, -0.2],
  [0.45, 0.0], [0.5, 0.4], [0.52, -0.3], [0.55, 0.7], [0.58, -0.6], [0.6, 0.1], [0.62, -0.85],
  [0.65, 0.45], [0.68, -0.4], [0.7, 0.25], [0.72, -0.95], [0.75, -0.3], [0.75, 0.75], [0.78, -0.6],
  [0.8, 0.45], [0.82, -0.15], [0.85, -0.8], [0.85, 0.2], [0.88, -1.2], [0.9, -0.4], [0.92, 0.35],
  [0.95, -0.7], [0.95, -0.1], [0.98, -0.95], [1.0, 0.3], [1.02, -0.4], [1.05, -1.05], [1.08, 0.1],
  [1.1, -0.5], [1.15, -0.9], [1.2, 0.0], [1.25, -0.35], [1.3, -0.6], [1.35, -0.05], [1.4, -0.45],
  [1.45, -0.8], [1.5, 0.05], [1.55, -0.6], [0.55, 0.95], [0.7, 1.15], [0.85, 1.0], [0.6, -1.35],
  [0.8, -1.5], [1.0, -1.25], [1.2, -1.25], [1.6, -1.05], [1.3, 0.4], [1.7, 0.1], [1.75, -0.45],
];
const dMuStarTri: Pt[] = [
  [0.35, -1.25], [0.6, -2.05], [0.65, -2.0], [0.9, -1.55], [1.05, -1.45], [1.1, -1.6], [1.3, -1.35],
  [1.3, -1.9], [1.6, 1.25], [1.9, 0.3], [1.95, 0.3], [1.95, -1.05], [1.9, -1.3], [1.95, -1.4],
  [1.92, -1.65], [1.95, -2.35], [2.05, -0.6], [2.0, -0.75], [2.2, -1.05], [2.38, -0.6], [2.55, -0.8],
  [2.4, -1.2], [2.45, -1.65], [2.7, -1.4], [2.75, -1.85], [2.75, 0.35], [2.85, -0.9], [2.9, -0.95],
  [2.95, -1.0], [3.1, 0.42], [3.15, -0.1], [3.2, -1.1], [3.35, -0.65], [3.05, 0.1],
];
const dMuStarMeans: MeanBin[] = [
  { x: 0.17, y: 0.0, xLo: -0.02, xHi: 0.35, yLo: -0.85, yHi: 0.85 },
  { x: 0.62, y: -0.15, xLo: 0.45, xHi: 0.78, yLo: -0.92, yHi: 0.62 },
  { x: 0.97, y: -0.42, xLo: 0.8, xHi: 1.15, yLo: -1.22, yHi: 0.4 },
  { x: 1.78, y: -0.58, xLo: 1.22, xHi: 2.35, yLo: -1.35, yHi: 0.2 },
];

// ─ Reference lines and error symbols ────────────────────────────────────────────────────────────
const sfrOneToOne: RefLine = { slope: 1, intercept: 41.3 };
const sfrFit: RefLine = { slope: 0.707, intercept: 40.0 };
const muSfrFit: RefLine = { slope: 1.121, intercept: 41.9 };
const mstarFit: RefLine = { slope: 0.735, intercept: 32.63 };
const muStarFit: RefLine = { slope: 1.266, intercept: 29.47 };
const lumLimit = 37;
const sfrErr: ErrSym = { x: 0.45, y: 36.6, dx: 0.2, dy: 0.07 };
const muSfrErr: ErrSym = { x: -0.49, y: 36.62, dx: 0.27, dy: 0.07 };
const mstarErr: ErrSym = { x: 11.53, y: 36.6, dx: 0.1, dy: 0.07 };
const muStarErr: ErrSym = { x: 8.7, y: 36.6, dx: 0.2, dy: 0.07 };

// ─ Styling ──────────────────────────────────────────────────────────────────────────────────────
const FONT = 'DejaVu Sans, sans-serif';
const RED = '#ff0000';
const BLUE = '#0000ff';

const tickValues = (domain: [number, number], step: number): number[] => {
  const lo = Math.ceil(domain[0] / step - 1e-6);
  const hi = Math.floor(domain[1] / step + 1e-6);
  return d3.range(lo, hi + 1).map(i => +(i * step).toFixed(6));
};
const fmt = (v: number): string => (v < 0 ? `\u2212${Math.abs(v)}` : `${v}`);

type Scale = d3.ScaleLinear<number, number>;

interface PanelProps {
  id: string;
  box: Box;
  xAxis: AxisDef;
  yAxis: AxisDef;
  topAxis?: AxisDef;
  render: (x: Scale, y: Scale) => ReactNode;
}

const Panel = ({ id, box, xAxis, yAxis, topAxis, render }: PanelProps): ReactElement => {
  const x = d3.scaleLinear().domain(xAxis.domain).range([box.left, box.right]);
  const y = d3.scaleLinear().domain(yAxis.domain).range([box.bottom, box.top]);
  const top = topAxis ? d3.scaleLinear().domain(topAxis.domain).range([box.left, box.right]) : x;
  const topDef = topAxis || xAxis;
  const major = 7;
  const minor = 3.5;
  const isMajor = (v: number, step: number) => Math.abs(v / step - Math.round(v / step)) < 1e-6;

  return (
    <g>
      <defs>
        <clipPath id={id}>
          <rect x={box.left} y={box.top} width={box.right - box.left} height={box.bottom - box.top} />
        </clipPath>
      </defs>
      <g clipPath={`url(#${id})`}>{render(x, y)}</g>
      {/* ticks */}
      <g stroke="#000" strokeWidth={1.4}>
        {tickValues(xAxis.domain, xAxis.minor).map(v => {
          const len = isMajor(v, xAxis.major) ? major : minor;
          return <line key={`b${v}`} x1={x(v)} x2={x(v)} y1={box.bottom} y2={box.bottom - len} />;
        })}
        {tickValues(topDef.domain, topDef.minor).map(v => {
          const len = isMajor(v, topDef.major) ? major : minor;
          return <line key={`t${v}`} x1={top(v)} x2={top(v)} y1={box.top} y2={box.top + len} />;
        })}
        {tickValues(yAxis.domain, yAxis.minor).map(v => {
          const len = isMajor(v, yAxis.major) ? major : minor;
          return (
            <g key={`y${v}`}>
              <line x1={box.left} x2={box.left + len} y1={y(v)} y2={y(v)} />
              <line x1={box.right} x2={box.right - len} y1={y(v)} y2={y(v)} />
            </g>
          );
        })}
      </g>
      <rect x={box.left} y={box.top} width={box.right - box.left} height={box.bottom - box.top}
        fill="none" stroke="#000" strokeWidth={1.8} />
      {/* tick labels */}
      <g fontFamily={FONT} fontSize={14} fill="#000">
        {tickValues(xAxis.domain, xAxis.major).map(v => (
          <text key={`bl${v}`} x={x(v)} y={box.bottom + 16.5} textAnchor="middle">{fmt(v)}</text>
        ))}
        {topAxis && tickValues(topAxis.domain, topAxis.major).map(v => (
          <text key={`tl${v}`} x={top(v)} y={box.top - 6} textAnchor="middle">{fmt(v)}</text>
        ))}
        {tickValues(yAxis.domain, yAxis.major).map(v => (
          <text key={`yl${v}`} x={box.left - 6} y={y(v)} dy="0.36em" textAnchor="end">{fmt(v)}</text>
        ))}
      </g>
    </g>
  );
};

// ─ Mark helpers ─────────────────────────────────────────────────────────────────────────────────
const openCircles = (pts: Pt[], x: Scale, y: Scale) => pts.map((p, i) => (
  <circle key={`r${i}`} cx={x(p[0])} cy={y(p[1])} r={2.9} fill="none" stroke={RED} strokeWidth={1.2} />
));
const dots = (pts: Pt[], x: Scale, y: Scale) => pts.map((p, i) => (
  <circle key={`b${i}`} cx={x(p[0])} cy={y(p[1])} r={2.5} fill={BLUE} />
));
const triangles = (pts: Pt[], x: Scale, y: Scale) => pts.map((p, i) => {
  const cx = x(p[0]);
  const cy = y(p[1]);
  return (
    <path key={`t${i}`} d={`M${cx - 2},${cy - 2.6}L${cx + 2.8},${cy}L${cx - 2},${cy + 2.6}Z`}
      fill="none" stroke={RED} strokeWidth={1.1} />
  );
});
const refLine = (l: RefLine, x: Scale, y: Scale, dash?: string) => {
  const [a, b] = x.domain();
  return (
    <line x1={x(a)} y1={y(l.slope * a + l.intercept)} x2={x(b)} y2={y(l.slope * b + l.intercept)}
      stroke="#000" strokeWidth={1.1} strokeDasharray={dash} />
  );
};
const limitLine = (x: Scale, y: Scale) => (
  <line x1={x.range()[0]} x2={x.range()[1]} y1={y(lumLimit)} y2={y(lumLimit)}
    stroke="#000" strokeWidth={1.1} strokeDasharray="1.2,2.4" />
);
const errSymbol = (e: ErrSym, x: Scale, y: Scale) => (
  <g stroke="#000" strokeWidth={1.1}>
    <line x1={x(e.x - e.dx)} x2={x(e.x + e.dx)} y1={y(e.y)} y2={y(e.y)} />
    <line x1={x(e.x - e.dx)} x2={x(e.x - e.dx)} y1={y(e.y) - 2.5} y2={y(e.y) + 2.5} />
    <line x1={x(e.x + e.dx)} x2={x(e.x + e.dx)} y1={y(e.y) - 2.5} y2={y(e.y) + 2.5} />
    <line x1={x(e.x) - 2.5} x2={x(e.x) + 2.5} y1={y(e.y - e.dy)} y2={y(e.y - e.dy)} />
    <line x1={x(e.x) - 2.5} x2={x(e.x) + 2.5} y1={y(e.y + e.dy)} y2={y(e.y + e.dy)} />
    <circle cx={x(e.x)} cy={y(e.y)} r={2.5} fill="#000" stroke="none" />
  </g>
);
const means = (bins: MeanBin[], x: Scale, y: Scale) => bins.map((m, i) => {
  const cx = x(m.x);
  const cy = y(m.y);
  const c = 3.5;
  return (
    <g key={`m${i}`} stroke="#222" strokeWidth={1.3}>
      <line x1={x(m.xLo)} x2={x(m.xHi)} y1={cy} y2={cy} />
      <line x1={x(m.xLo)} x2={x(m.xLo)} y1={cy - c} y2={cy + c} />
      <line x1={x(m.xHi)} x2={x(m.xHi)} y1={cy - c} y2={cy + c} />
      <line x1={cx} x2={cx} y1={y(m.yLo)} y2={y(m.yHi)} />
      <line x1={cx - c} x2={cx + c} y1={y(m.yLo)} y2={y(m.yLo)} />
      <line x1={cx - c} x2={cx + c} y1={y(m.yHi)} y2={y(m.yHi)} />
      <circle cx={cx} cy={cy} r={5.3} fill="#000" stroke="none" />
    </g>
  );
});

// ─ Labels ───────────────────────────────────────────────────────────────────────────────────────
const LumLabel = ({ x, y }: { x: number; y: number }): ReactElement => (
  <text transform={`translate(${x},${y}) rotate(-90)`} textAnchor="middle" fontFamily={FONT} fontSize={14.5}>
    log L(H<tspan fontStyle="italic">α</tspan>)<tspan fontSize={9} dy={4}>i</tspan>
    <tspan dy={-4}>{'  (erg s'}</tspan><tspan fontSize={9} dy={-5}>−1</tspan><tspan dy={5}>)</tspan>
  </text>
);
const DeltaLabel = ({ x, y }: { x: number; y: number }): ReactElement => (
  <text transform={`translate(${x},${y}) rotate(-90)`} textAnchor="middle" fontFamily={FONT} fontSize={15}>Δ</text>
);
const XLabel = ({ x, y, children }: { x: number; y: number; children: ReactNode }): ReactElement => (
  <text x={x} y={y} textAnchor="middle" fontFamily={FONT} fontSize={14} xmlSpace="preserve">{children}</text>
);

// ─ Layout ───────────────────────────────────────────────────────────────────────────────────────
const lumAxis: AxisDef = { domain: [36, 41], major: 1, minor: 0.2 };
const hiAxis: AxisDef = { domain: [-0.5, 3.5], major: 1, minor: 0.2 };

const App = (): ReactElement => (
  <svg width={1051} height={528} style={{ position: 'absolute', left: 0, top: 0, background: '#fff' }}>
    <rect width={1051} height={528} fill="#fff" />
    <text x={525} y={19} textAnchor="middle" fontFamily="Liberation Serif, serif" fontSize={17.5}>
      Boselli et al.: VESTIGE: statistical properties of H <tspan fontSize={12}>II</tspan> regions in perturbed galaxies
    </text>
    <text x={1040} y={19} textAnchor="end" fontFamily="Liberation Serif, serif" fontSize={17.5}>9</text>

    {/* Panel: SFR */}
    <Panel id="pA" box={{ left: 44, right: 262, top: 82.7, bottom: 268.7 }}
      xAxis={{ domain: [-5, 1], major: 2, minor: 0.5 }} yAxis={lumAxis}
      topAxis={{ domain: [-5 + 41.27, 1 + 41.27], major: 2, minor: 0.5 }}
      render={(x, y) => (
        <>
          {limitLine(x, y)}
          {refLine(sfrOneToOne, x, y)}
          {refLine(sfrFit, x, y, '6,4')}
          {openCircles(sfrRed, x, y)}
          {dots(sfrBlue, x, y)}
          {errSymbol(sfrErr, x, y)}
        </>
      )} />
    <XLabel x={181} y={57}>log L(H<tspan fontStyle="italic">α</tspan>)  (erg s<tspan fontSize={8} dy={-5}>−1</tspan><tspan dy={5}>)</tspan></XLabel>
    <XLabel x={152} y={303}>log SFR  (M<tspan fontSize={9} dy={3}>⊙</tspan><tspan dy={-3}> yr</tspan><tspan fontSize={8} dy={-5}>−1</tspan><tspan dy={5}>)</tspan></XLabel>
    <LumLabel x={19} y={172} />

    {/* Panel: Δ (SFR) */}
    <Panel id="pB" box={{ left: 315.7, right: 510.7, top: 82.7, bottom: 269 }}
      xAxis={hiAxis} yAxis={{ domain: [-2.5, 1.5], major: 1, minor: 0.2 }}
      render={(x, y) => (
        <>
          {openCircles(dSfrRed, x, y)}
          {triangles(dSfrTri, x, y)}
          {dots(dSfrBlue, x, y)}
          {means(dSfrMeans, x, y)}
        </>
      )} />
    <DeltaLabel x={283} y={175} />
    <XLabel x={387} y={303}>HI−def</XLabel>

    {/* Panel: μSFR */}
    <Panel id="pC" box={{ left: 578.3, right: 794, top: 52.7, bottom: 238.3 }}
      xAxis={{ domain: [-6, 0], major: 2, minor: 0.5 }} yAxis={lumAxis}
      render={(x, y) => (
        <>
          {limitLine(x, y)}
          {refLine(muSfrFit, x, y, '6,4')}
          {openCircles(muSfrRed, x, y)}
          {dots(muSfrBlue, x, y)}
          {errSymbol(muSfrErr, x, y)}
        </>
      )} />
    <XLabel x={686} y={275}>log <tspan fontStyle="italic">μ</tspan><tspan fontSize={8} dy={3}>SFR</tspan><tspan dy={-3}>  (M</tspan><tspan fontSize={9} dy={3}>⊙</tspan><tspan dy={-3}> yr</tspan><tspan fontSize={8} dy={-5}>−1</tspan><tspan dy={5}> kpc</tspan><tspan fontSize={8} dy={-5}>−2</tspan><tspan dy={5}>)</tspan></XLabel>
    <LumLabel x={556} y={150} />

    {/* Panel: Δ (μSFR) */}
    <Panel id="pD" box={{ left: 849.3, right: 1041.7, top: 52.7, bottom: 237.3 }}
      xAxis={hiAxis} yAxis={{ domain: [-2, 2.5], major: 1, minor: 0.2 }}
      render={(x, y) => (
        <>
          {openCircles(dMuSfrRed, x, y)}
          {triangles(dMuSfrTri, x, y)}
          {dots(dMuSfrBlue, x, y)}
          {means(dMuSfrMeans, x, y)}
        </>
      )} />
    <DeltaLabel x={815} y={145} />
    <XLabel x={945} y={271}>HI−def</XLabel>

    {/* Panel: Mstar */}
    <Panel id="pE" box={{ left: 44, right: 262, top: 316, bottom: 501.7 }}
      xAxis={{ domain: [6, 12], major: 2, minor: 0.5 }} yAxis={lumAxis}
      render={(x, y) => (
        <>
          {limitLine(x, y)}
          {refLine(mstarFit, x, y, '6,4')}
          {openCircles(mstarRed, x, y)}
          {dots(mstarBlue, x, y)}
          {errSymbol(mstarErr, x, y)}
        </>
      )} />
    <XLabel x={152} y={535}>log M<tspan fontSize={8} dy={3}>star</tspan><tspan dy={-3}>  (M</tspan><tspan fontSize={9} dy={3}>⊙</tspan><tspan dy={-3}>)</tspan></XLabel>
    <LumLabel x={19} y={407} />

    {/* Panel: Δ (Mstar) */}
    <Panel id="pF" box={{ left: 315.7, right: 510.7, top: 316.7, bottom: 500.7 }}
      xAxis={hiAxis} yAxis={{ domain: [-2.5, 1.5], major: 1, minor: 0.2 }}
      render={(x, y) => (
        <>
          {openCircles(dMstarRed, x, y)}
          {triangles(dMstarTri, x, y)}
          {dots(dMstarBlue, x, y)}
          {means(dMstarMeans, x, y)}
        </>
      )} />
    <DeltaLabel x={283} y={408} />
    <XLabel x={387} y={535}>HI−def</XLabel>

    {/* Panel: μstar */}
    <Panel id="pG" box={{ left: 578.3, right: 794, top: 285, bottom: 468.3 }}
      xAxis={{ domain: [5, 9], major: 1, minor: 0.2 }} yAxis={lumAxis}
      render={(x, y) => (
        <>
          {limitLine(x, y)}
          {refLine(muStarFit, x, y, '6,4')}
          {openCircles(muStarRed, x, y)}
          {dots(muStarBlue, x, y)}
          {errSymbol(muStarErr, x, y)}
        </>
      )} />
    <XLabel x={686} y={505}>log <tspan fontStyle="italic">μ</tspan><tspan fontSize={8} dy={3}>star</tspan><tspan dy={-3}>  (M</tspan><tspan fontSize={9} dy={3}>⊙</tspan><tspan dy={-3}> kpc</tspan><tspan fontSize={8} dy={-5}>−2</tspan><tspan dy={5}>)</tspan></XLabel>
    <LumLabel x={556} y={380} />

    {/* Panel: Δ (μstar) */}
    <Panel id="pH" box={{ left: 849.3, right: 1041.7, top: 285, bottom: 468.3 }}
      xAxis={hiAxis} yAxis={{ domain: [-2.5, 2], major: 1, minor: 0.2 }}
      render={(x, y) => (
        <>
          {openCircles(dMuStarRed, x, y)}
          {triangles(dMuStarTri, x, y)}
          {dots(dMuStarBlue, x, y)}
          {means(dMuStarMeans, x, y)}
        </>
      )} />
    <DeltaLabel x={815} y={377} />
    <XLabel x={945} y={503}>HI−def</XLabel>
  </svg>
);

// ─ Exports ──────────────────────────────────────────────────────────────────────────────────────
export default App;
